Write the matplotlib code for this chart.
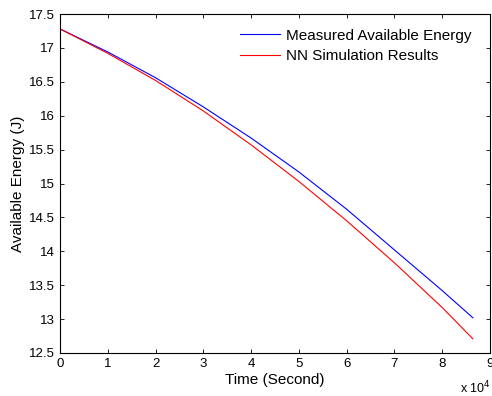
import numpy as np
import matplotlib
matplotlib.use('Agg')
import matplotlib.pyplot as plt

plt.rcParams['font.family'] = ['Liberation Sans', 'DejaVu Sans']

# time in units of 1e4 seconds
time = [0, 1, 2, 3, 4, 5, 6, 7, 8, 8.64]
measured = [17.28, 16.94, 16.56, 16.13, 15.67, 15.17, 14.62, 14.02, 13.42, 13.02]
nn_sim = [17.28, 16.92, 16.52, 16.07, 15.57, 15.03, 14.45, 13.83, 13.17, 12.71]

fig = plt.figure(figsize=(4.92, 3.96), dpi=100)
ax = fig.add_axes([0.122, 0.1086, 0.874, 0.856])

ax.plot(time, measured, color='#0000ff', linewidth=0.8, label='Measured Available Energy')
ax.plot(time, nn_sim, color='#ff0000', linewidth=0.8, label='NN Simulation Results')

ax.set_xlim(0, 9)
ax.set_ylim(12.5, 17.5)
ax.set_xticks(range(0, 10))
ax.set_yticks(np.arange(12.5, 17.6, 0.5))
ax.set_yticklabels(['12.5', '13', '13.5', '14', '14.5', '15', '15.5', '16', '16.5', '17', '17.5'])
ax.tick_params(direction='in', top=True, right=True, labelsize=9.5, length=3, width=0.6)
for s in ax.spines.values():
    s.set_linewidth(0.8)

ax.set_xlabel('Time (Second)', fontsize=11, labelpad=2.5)
ax.set_ylabel('Available Energy (J)', fontsize=11, labelpad=3)
fig.text(0.935, 0.006, r'x 10$^4$', fontsize=9)

ax.legend(loc='upper right', bbox_to_anchor=(0.956, 0.957), frameon=False, fontsize=11,
          handlelength=2.6, handletextpad=0.4, labelspacing=0.45,
          borderaxespad=0, borderpad=0)

fig.savefig('out.png', dpi=100)
